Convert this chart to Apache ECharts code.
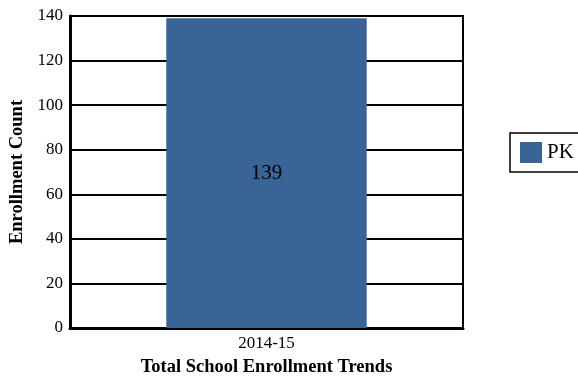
<!DOCTYPE html>
<html><head><meta charset="utf-8">
<script src="https://cdn.jsdelivr.net/npm/echarts@6/dist/echarts.min.js"></script>
<style>html,body{margin:0;padding:0;background:#fff}#c{width:578px;height:377px}</style>
</head><body><div id="c"></div>
<script>
const categories = ['2014-15'];
const seriesName = 'PK';
const values = [139];
const yTicks = { min: 0, max: 140, interval: 20 };

const chart = echarts.init(document.getElementById('c'));
const font = 'Liberation Serif, Times New Roman, serif';
chart.setOption({
  animation: false,
  textStyle: { fontFamily: font },
  grid: { left: 70, right: 115, top: 16, bottom: 49, show: true, borderColor: '#000', borderWidth: 2,
          containLabel: false, outerBoundsMode: 'none' },
  legend: {
    data: [seriesName], left: 510, top: 133, orient: 'vertical',
    itemWidth: 22, itemHeight: 21, itemGap: 5,
    padding: [9, 40, 9, 10], borderColor: '#000', borderWidth: 1.5,
    textStyle: { fontFamily: font, fontSize: 21, color: '#000' },
    icon: 'rect'
  },
  xAxis: {
    type: 'category', data: categories,
    axisLine: { lineStyle: { color: '#000', width: 3 } },
    axisTick: { show: false },
    axisLabel: { fontFamily: font, fontSize: 17, color: '#000', margin: 7 },
    name: 'Total School Enrollment Trends', nameLocation: 'middle', nameGap: 30,
    nameTextStyle: { fontFamily: font, fontSize: 18.5, fontWeight: 'bold', color: '#000' }
  },
  yAxis: {
    type: 'value', min: yTicks.min, max: yTicks.max, interval: yTicks.interval,
    axisLine: { show: true, lineStyle: { color: '#000', width: 3 } },
    axisTick: { show: false },
    splitLine: { lineStyle: { color: '#000', width: 2 } },
    axisLabel: { fontFamily: font, fontSize: 17, color: '#000', margin: 7 },
    name: 'Enrollment Count', nameLocation: 'middle', nameGap: 42,
    nameTextStyle: { fontFamily: font, fontSize: 18.5, fontWeight: 'bold', color: '#000' }
  },
  series: [{
    type: 'bar', name: seriesName, data: values, barWidth: '51%',
    itemStyle: { color: '#3A6496' },
    label: { show: true, position: 'inside', fontFamily: font, fontSize: 21, color: '#000' }
  }]
});
</script></body></html>
